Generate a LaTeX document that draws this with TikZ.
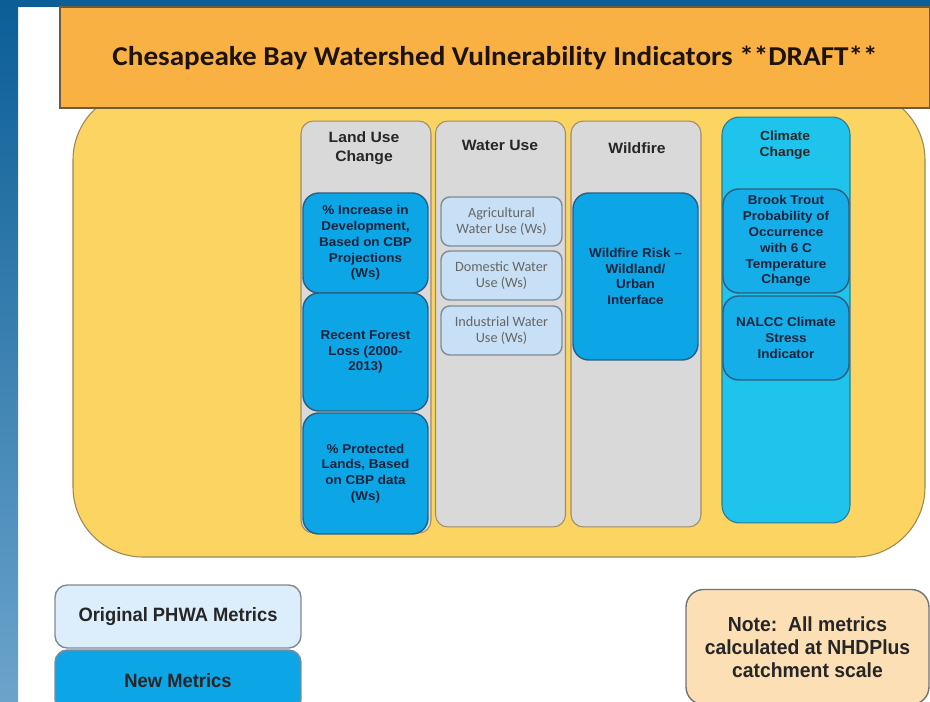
\documentclass[tikz,border=0pt]{standalone}
\usepackage{fontspec}
\setmainfont[FakeStretch=1.05]{Liberation Sans}
\newfontfamily\calib{Carlito}
\newfontfamily\titlefont[FakeStretch=1.07]{Carlito}
\newfontfamily\narrow[FakeStretch=0.95]{Liberation Sans}
\usetikzlibrary{positioning}
\definecolor{Frame}{HTML}{0B5E96}
\definecolor{FrameLight}{HTML}{6BA4CB}
\definecolor{TitleOrange}{HTML}{F9B144}
\definecolor{TitleEdge}{HTML}{6E5B3C}
\definecolor{Bay}{HTML}{FCD462}
\definecolor{BayEdge}{HTML}{9C8654}
\definecolor{ColGray}{HTML}{D9D9D9}
\definecolor{ColEdge}{HTML}{A08C68}
\definecolor{NewBlue}{HTML}{0CA6E7}
\definecolor{NewEdge}{HTML}{2B5E80}
\definecolor{OldBlue}{HTML}{C7E0F5}
\definecolor{OldEdge}{HTML}{7E8A96}
\definecolor{Cyan}{HTML}{1EC4EC}
\definecolor{CyanEdge}{HTML}{2E7892}
\definecolor{TroutBlue}{HTML}{15AEE8}
\definecolor{Legend}{HTML}{DCEEFB}
\definecolor{Note}{HTML}{FDDFB6}
\definecolor{Navy}{HTML}{14243C}
\definecolor{Ink}{HTML}{262626}

\begin{document}
\begin{tikzpicture}[
  x=0.02cm, y=-0.02cm,
  col/.style={draw=ColEdge, fill=ColGray, rounded corners=7pt, line width=0.6pt,
              minimum width=2.6cm, minimum height=8.12cm},
  head/.style={align=center, text=Ink, font=\bfseries\fontsize{8.5}{10.8}\selectfont},
  metric/.style={draw=NewEdge, fill=NewBlue, rounded corners=9pt, line width=0.8pt,
                 minimum width=2.5cm, align=center, text=Navy, inner sep=2pt,
                 font=\bfseries\fontsize{7.3}{9}\selectfont},
  wuse/.style={draw=OldEdge, fill=OldBlue, rounded corners=5pt, line width=0.8pt,
               minimum width=2.42cm, minimum height=0.98cm, align=center,
               text=black!60, font=\calib\fontsize{8.1}{9.4}\selectfont},
  legend/.style={draw=OldEdge, rounded corners=7pt, line width=0.8pt,
                 minimum width=4.92cm, text=Ink,
                 font=\narrow\bfseries\fontsize{11}{13}\selectfont}
]
  \clip (0,0) rectangle (930,702);
  \fill[white] (0,0) rectangle (930,702);
  \shade[top color=Frame, bottom color=FrameLight] (0,0) rectangle (18,702);
  \fill[Frame] (0,0) rectangle (930,7);

  % watershed panel and title bar
  \draw[draw=BayEdge, fill=Bay, line width=0.6pt, rounded corners=1.4cm] (73,90) rectangle (925,557);
  \node[draw=TitleEdge, fill=TitleOrange, line width=0.8pt, minimum width=17.4cm, minimum height=2.02cm,
        text=black!85!brown, font=\titlefont\bfseries\fontsize{15.5}{18}\selectfont] (title) at (495,57.5)
    {Chesapeake Bay Watershed Vulnerability Indicators **DRAFT**};

  % indicator columns
  \node[col, minimum height=8.24cm] (landcol) at (366,327) {};
  \node[col] (watercol) at (500.5,324) {};
  \node[col] (firecol) at (636,324) {};
  \node[col, draw=CyanEdge, fill=Cyan, minimum width=2.56cm, rounded corners=10pt] (climcol) at (786,320) {};

  \node[head] (landhead) at (364,148) {Land Use\\Change};
  \node[head] (waterhead) at (500,145) {Water Use};
  \node[head] (firehead) at (637,148) {Wildfire};
  \node[head, font=\bfseries\fontsize{7.5}{9.3}\selectfont] (climhead) at (785,145) {Climate\\Change};

  % land use metrics
  \node[metric, minimum height=2.0cm] (devel) at (365.5,243) {\% Increase in\\Development,\\Based on CBP\\Projections\\(Ws)};
  \node[metric, minimum height=2.36cm] (forest) at (365.5,352) {Recent Forest\\Loss (2000-\\2013)};
  \node[metric, minimum height=2.42cm] (protect) at (365.5,473.5) {\% Protected\\Lands, Based\\on CBP data\\(Ws)};

  % water use metrics
  \node[wuse] (agri) at (501.5,221.5) {Agricultural\\Water Use (Ws)};
  \node[wuse] (domestic) at (501.5,275.5) {Domestic Water\\Use (Ws)};
  \node[wuse] (industry) at (501.5,330.5) {Industrial Water\\Use (Ws)};

  % wildfire metric
  \node[metric, minimum height=3.34cm] (wui) at (635.5,276.5) {Wildfire Risk --\\Wildland/\\Urban\\Interface};

  % climate metrics
  \node[metric, fill=TroutBlue, minimum width=2.52cm, minimum height=2.08cm] (trout) at (786,241)
    {Brook Trout\\Probability of\\Occurrence\\with 6 C\\Temperature\\Change};
  \node[metric, fill=TroutBlue, minimum width=2.52cm, minimum height=1.68cm] (nalcc) at (786,338)
    {NALCC Climate\\Stress\\Indicator};

  % legend and note
  \node[legend, fill=Legend, minimum height=1.26cm] (original) at (178,616.5) {Original PHWA Metrics};
  \node[legend, fill=NewBlue, minimum height=1.24cm] (newmet) at (178,681) {New Metrics};
  \node[legend, fill=Note, draw=black!55, minimum width=4.86cm, minimum height=2.3cm, rounded corners=10pt,
        align=center, font=\narrow\bfseries\fontsize{11.6}{13}\selectfont] (note) at (807.5,647)
    {Note:\ \ All metrics\\calculated at NHDPlus\\catchment scale};
\end{tikzpicture}
\end{document}
